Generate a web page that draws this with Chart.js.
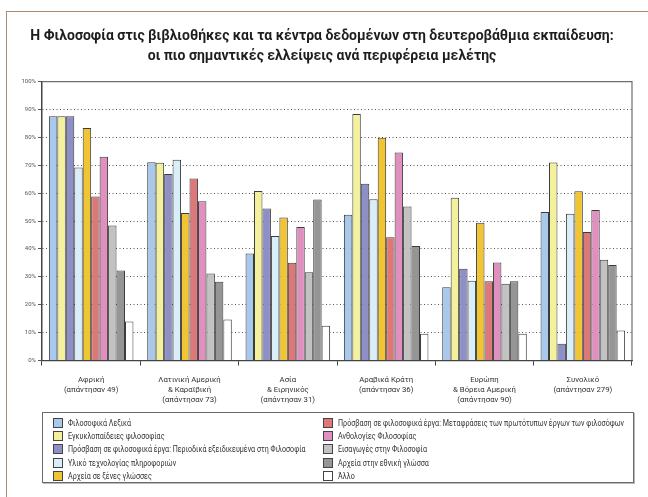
<!DOCTYPE html>
<html lang="el">
<head>
<meta charset="utf-8">
<title>Η Φιλοσοφία στις βιβλιοθήκες</title>
<script src="https://cdn.jsdelivr.net/npm/chart.js@4.4.1/dist/chart.umd.min.js"></script>
<style>
    body { margin: 0; background: #fff; }
    #contenedor { position: relative; width: 648px; height: 497px; background: #fff; overflow: hidden; }
    #marco { position: absolute; left: 6px; top: 11px; right: -5px; bottom: -5px; border-top: 1.5px solid #a88b6b; border-left: 1.5px solid #a88b6b; }
    #grafico { position: absolute; left: 0; top: 0; }
    #leyenda {
        position: absolute; left: 42px; top: 412px; width: 592px; height: 71px;
        border: 1px solid #6a6a6a; box-shadow: 1px 1px 0 #bbb; background: #fff;
        display: grid; grid-template-columns: 270px 1fr; grid-template-rows: repeat(5, 13.4px);
        grid-auto-flow: column; padding: 3px 0 0 10px; box-sizing: border-box;
        font-family: Roboto, sans-serif; font-size: 8.5px; color: #333;
    }
    .item { display: flex; align-items: center; white-space: nowrap; }
    .caja { width: 8px; height: 8px; border: 1px solid #444; margin-right: 5px; flex: none; }
    .texto { display: inline-block; transform: scaleX(0.84); transform-origin: 0 50%; }
</style>
</head>
<body>
<div id="contenedor">
    <div id="marco"></div>
    <canvas id="grafico" width="648" height="497"></canvas>
    <div id="leyenda"></div>
</div>
<script>
// --------------------------------------------------------------------
// Datos (porcentaje de respuestas por región)
// --------------------------------------------------------------------
const regiones = [
    ['Αφρική', '(απάντησαν 49)'],
    ['Λατινική Αμερική', '& Καραϊβική', '(απάντησαν 73)'],
    ['Ασία', '& Ειρηνικός', '(απάντησαν 31)'],
    ['Αραβικά Κράτη', '(απάντησαν 36)'],
    ['Ευρώπη', '& Βόρεια Αμερική', '(απάντησαν 90)'],
    ['Συνολικό', '(απάντησαν 279)']
];

const lexika        = [87.6, 71.1, 38.4, 52.3, 26.3, 53.3];
const egkyklopaid   = [87.6, 70.9, 60.8, 88.4, 58.4, 71.0];
const periodika     = [87.6, 66.9, 54.5, 63.4, 32.9, 6.0];
const texnologia    = [69.2, 72.0, 44.7, 57.8, 28.6, 52.6];
const xenesGlosses  = [83.4, 52.9, 51.3, 79.9, 49.4, 60.7];
const metafraseis   = [58.8, 65.3, 35.1, 44.2, 28.4, 46.1];
const anthologies   = [73.1, 57.1, 47.9, 74.6, 35.2, 54.0];
const eisagoges     = [48.4, 31.2, 31.7, 55.2, 27.5, 36.1];
const ethnikiGlossa = [32.3, 28.3, 57.7, 41.1, 28.4, 34.3];
const allo          = [14.0, 14.7, 12.5, 9.6, 9.6, 10.8];

const yTicks = [0, 10, 20, 30, 40, 50, 60, 70, 80, 90, 100];

// series: etiqueta, datos, color
const series = [
    ['Φιλοσοφικά Λεξικά', lexika, '#a8c8ec'],
    ['Εγκυκλοπαίδειες φιλοσοφίας', egkyklopaid, '#f4f19c'],
    ['Πρόσβαση σε φιλοσοφικά έργα: Περιοδικά εξειδικευμένα στη Φιλοσοφία', periodika, '#8f8fc7'],
    ['Υλικό τεχνολογίας πληροφοριών', texnologia, '#d9eef8'],
    ['Αρχεία σε ξένες γλώσσες', xenesGlosses, '#f0c433'],
    ['Πρόσβαση σε φιλοσοφικά έργα: Μεταφράσεις των πρωτότυπων έργων των φιλοσόφων', metafraseis, '#dc7878'],
    ['Ανθολογίες Φιλοσοφίας', anthologies, '#df90bf'],
    ['Εισαγωγές στην Φιλοσοφία', eisagoges, '#c2c2c2'],
    ['Αρχεία στην εθνική γλώσσα', ethnikiGlossa, '#959595'],
    ['Άλλο', allo, '#ffffff']
];

// Marco superior y derecho del área del gráfico (línea continua)
const marcoArea = {
    id: 'marcoArea',
    afterDraw(chart) {
        const { ctx, chartArea: a } = chart;
        ctx.save();
        ctx.strokeStyle = '#6e6e6e';
        ctx.lineWidth = 1.2;
        ctx.beginPath();
        ctx.moveTo(a.left, a.top);
        ctx.lineTo(a.right, a.top);
        ctx.lineTo(a.right, a.bottom);
        ctx.stroke();
        ctx.restore();
    }
};

const ctx = document.getElementById('grafico').getContext('2d');
const chart = new Chart(ctx, {
    type: 'bar',
    data: {
        labels: regiones,
        datasets: series.map(s => ({
            label: s[0],
            data: s[1],
            backgroundColor: s[2],
            borderColor: '#3c3c3c',
            borderWidth: 1,
            categoryPercentage: 0.86,
            barPercentage: 1.0
        }))
    },
    options: {
        responsive: false,
        devicePixelRatio: 1,
        animation: false,
        layout: { padding: { top: 20, left: 12, right: 16, bottom: 83 } },
        plugins: {
            legend: { display: false },
            tooltip: { enabled: false },
            title: {
                display: true,
                text: ['Η Φιλοσοφία στις βιβλιοθήκες και τα κέντρα δεδομένων στη δευτεροβάθμια εκπαίδευση:',
                       'οι πιο σημαντικές ελλείψεις ανά περιφέρεια μελέτης'],
                color: '#1e1e1e',
                font: { family: 'Roboto, sans-serif', size: 14, weight: 'bold', lineHeight: 1.45 },
                padding: { top: 6, bottom: 15 }
            }
        },
        scales: {
            x: {
                grid: { display: true, drawOnChartArea: false, offset: true, tickLength: 5, tickColor: '#444' },
                border: { color: '#444', width: 1.2 },
                ticks: {
                    color: '#333',
                    padding: 9,
                    maxRotation: 0,
                    autoSkip: false,
                    font: { family: 'Roboto, sans-serif', size: 7.8, lineHeight: 1.3 }
                }
            },
            y: {
                min: 0,
                max: 100,
                afterBuildTicks: (scale) => { scale.ticks = yTicks.map(v => ({ value: v })); },
                afterFit: (scale) => { scale.width = 30; },
                grid: { color: '#555', tickLength: 4, tickColor: '#555' },
                border: { color: '#444', width: 1.5, dash: [1, 2.5] },
                ticks: {
                    color: '#555',
                    padding: 2,
                    font: { family: 'Roboto, sans-serif', size: 6 },
                    callback: (v) => v + '%'
                }
            }
        }
    },
    plugins: [marcoArea]
});

// Leyenda en dos columnas (orden por columnas, como en el original)
const leyenda = document.getElementById('leyenda');
chart.data.datasets.forEach(ds => {
    const item = document.createElement('div');
    item.className = 'item';
    const caja = document.createElement('span');
    caja.className = 'caja';
    caja.style.background = ds.backgroundColor;
    const texto = document.createElement('span');
    texto.className = 'texto';
    texto.textContent = ds.label;
    item.appendChild(caja);
    item.appendChild(texto);
    leyenda.appendChild(item);
});
</script>
</body>
</html>
